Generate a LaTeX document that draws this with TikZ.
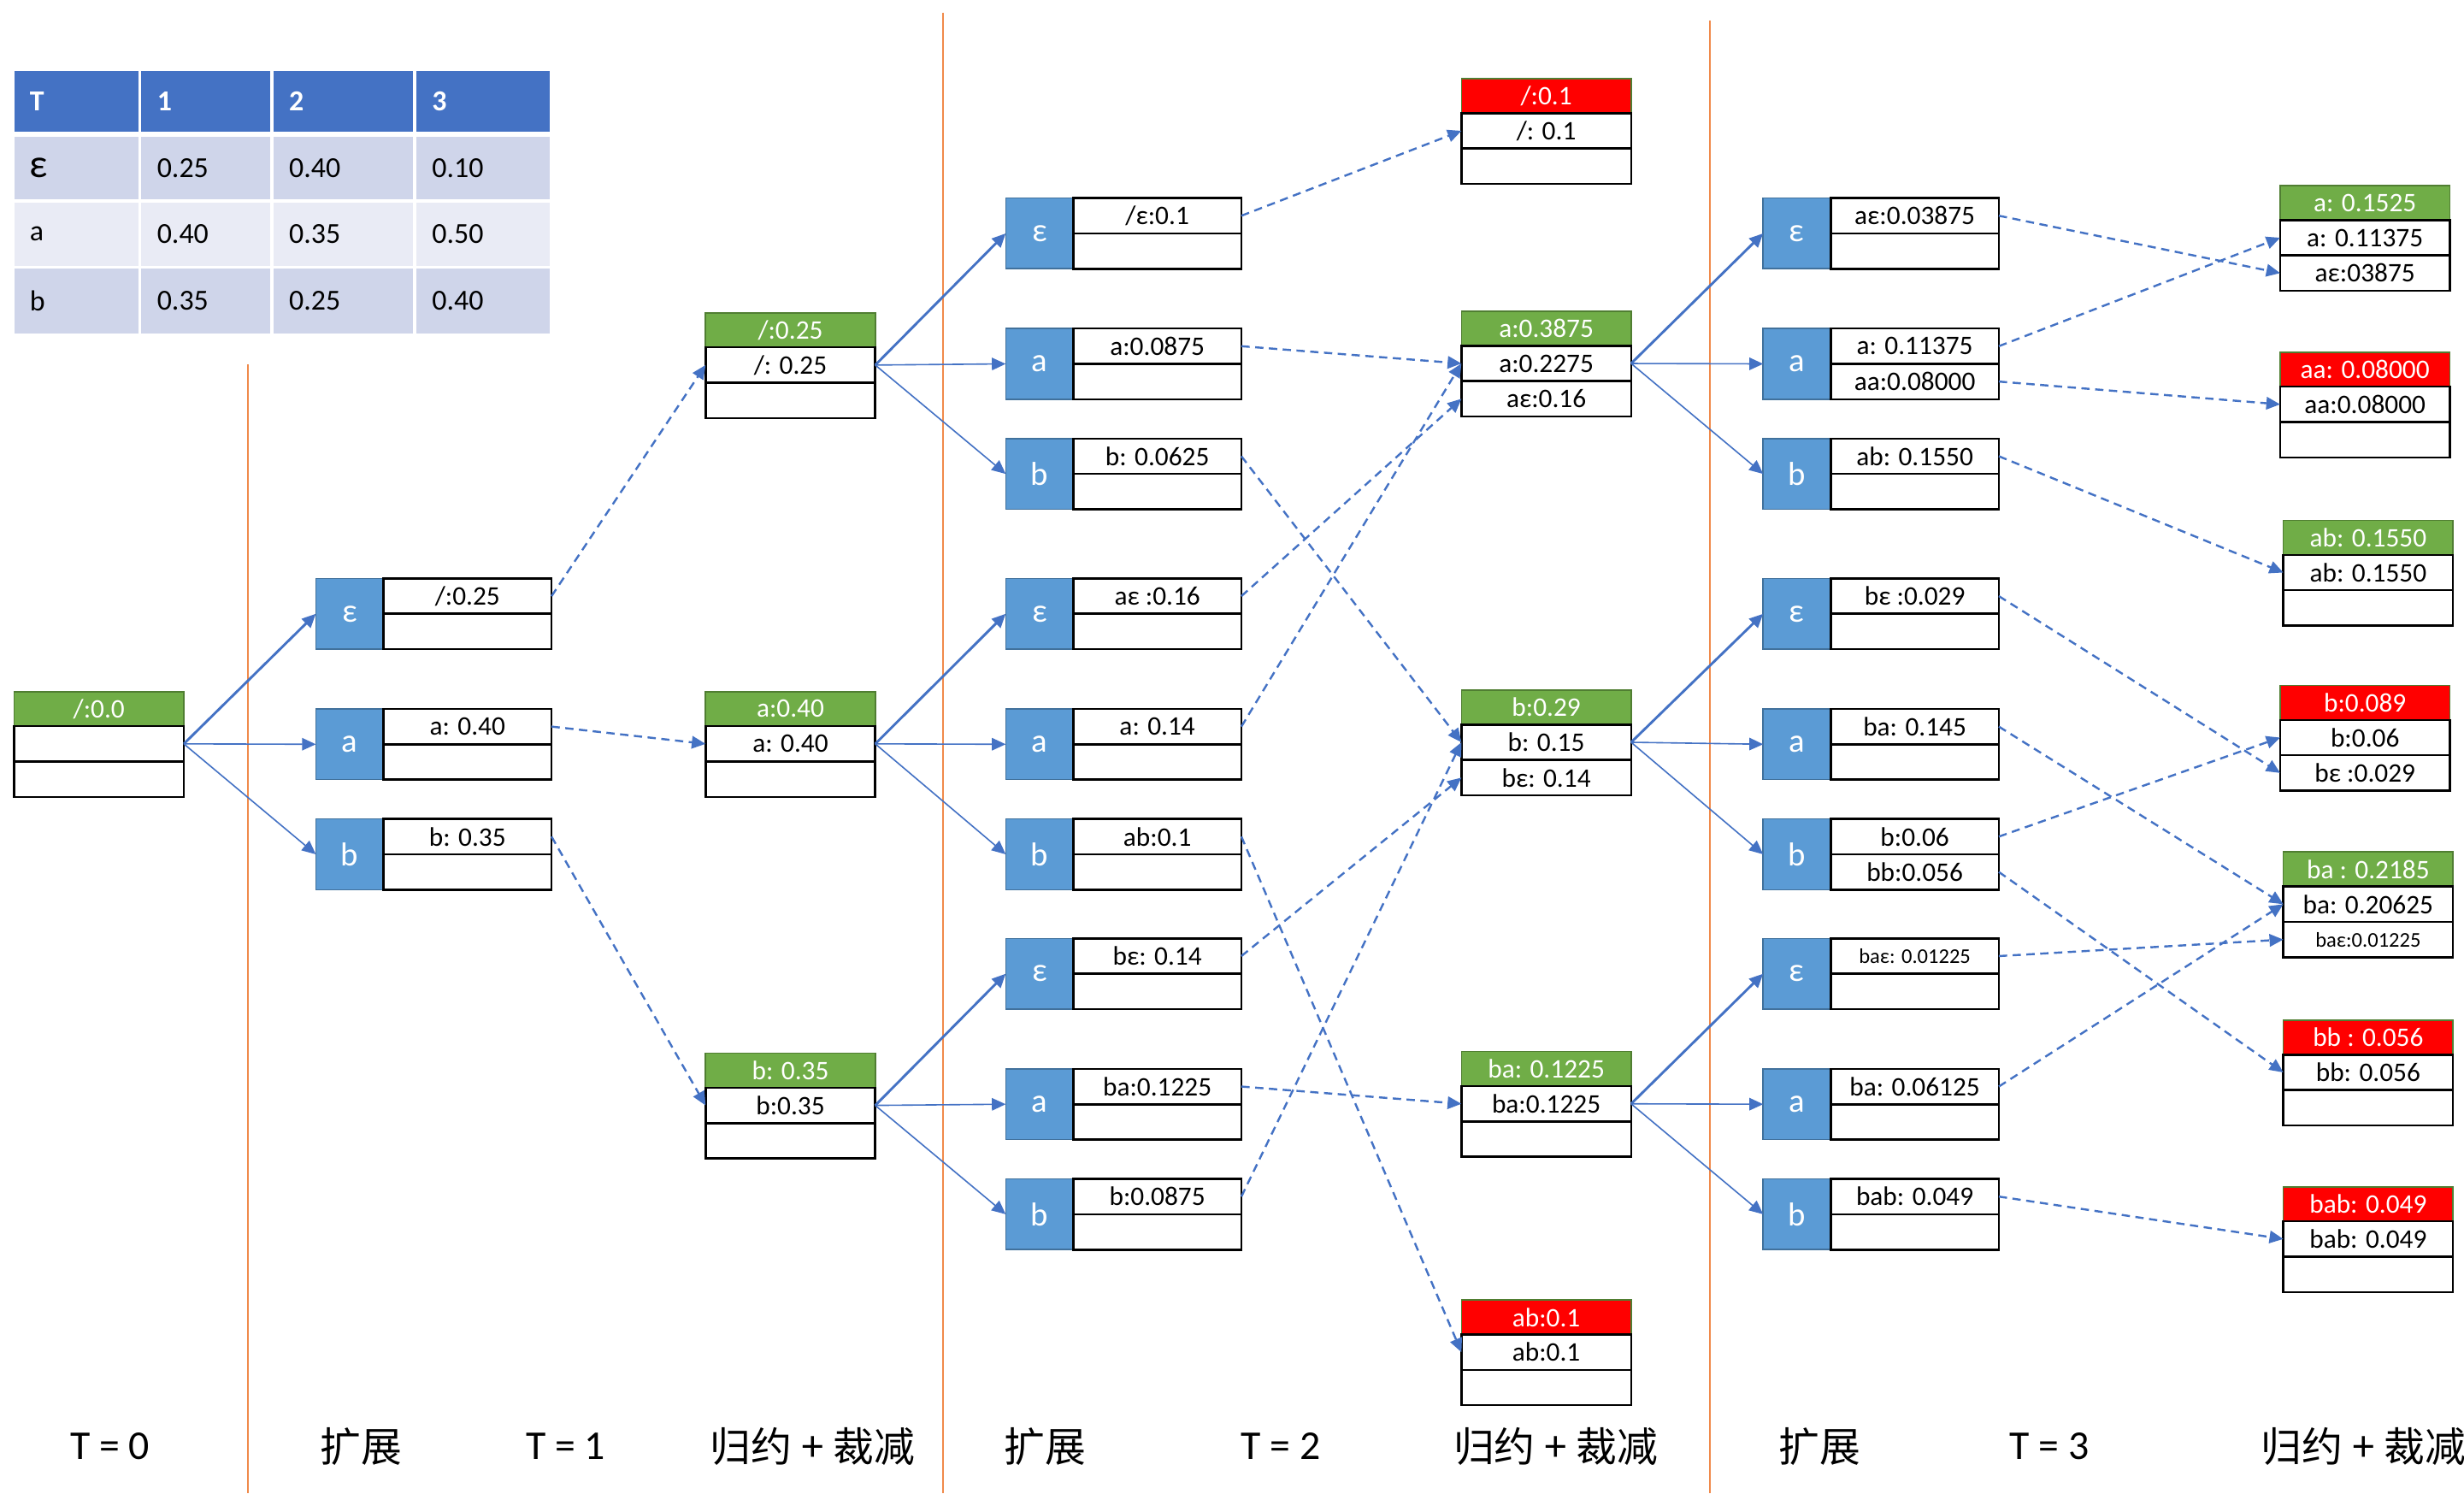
\documentclass[tikz,border=0pt]{standalone}
\usepackage{fontspec}
\setmainfont{Carlito}
\newfontfamily\cjkfont{Noto Sans CJK SC}
\usetikzlibrary{arrows.meta}
\definecolor{lineblue}{HTML}{4472C4}
\definecolor{boxblue}{HTML}{5B9BD5}
\definecolor{boxblueedge}{HTML}{41719C}
\definecolor{hgreen}{HTML}{70AD47}
\definecolor{hgreenedge}{HTML}{507E32}
\definecolor{hred}{HTML}{FF0000}
\definecolor{tabhead}{HTML}{4472C4}
\definecolor{tabdark}{HTML}{CFD5EA}
\definecolor{tablight}{HTML}{E9EBF5}
\definecolor{sepline}{HTML}{F08A4B}
\newcommand\bxfont{\fontsize{9.7}{11}\selectfont}
\newcommand\smallbxfont{\fontsize{7.6}{9}\selectfont}
\newcommand\tabfont{\fontsize{10.5}{12}\selectfont}
\tikzset{
  cell/.style={draw=black, line width=0.8pt, fill=white, minimum width=2.14cm, minimum height=0.45cm,
    inner sep=0pt, outer sep=0pt, font=\bxfont, anchor=north west},
  rcell/.style={cell, minimum width=2.16cm},
  letterbox/.style={draw=boxblueedge, line width=0.5pt, fill=boxblue, text=white, minimum width=0.86cm,
    minimum height=0.9cm, inner sep=0pt, outer sep=0pt, font=\fontsize{12}{13}\selectfont, anchor=north west},
  headgreen/.style={draw=hgreenedge, line width=0.5pt, fill=hgreen, text=white, minimum width=2.16cm,
    minimum height=0.44cm, inner sep=0pt, outer sep=0pt, font=\bxfont, anchor=north west},
  headred/.style={headgreen, fill=hred},
  expand/.style={-{Triangle[length=5pt,width=4.5pt]}, draw=lineblue, fill=lineblue, line width=0.5pt},
  expandthick/.style={expand, line width=0.9pt},
  merge/.style={-{Triangle[length=5pt,width=4.5pt]}, draw=lineblue, line width=0.75pt, dash pattern=on 3pt off 2pt},
  divider/.style={draw=sepline, line width=0.6pt},
  steplabel/.style={font=\fontsize{14.8}{16}\selectfont},
  tabcell/.style={anchor=north west, inner xsep=0.2cm, inner ysep=0pt, outer sep=0pt, align=left, font=\tabfont, text=black},
  tcA/.style={text width=1.18cm}, tcB/.style={text width=1.24cm},
  tcC/.style={text width=1.38cm}, tcD/.style={text width=1.30cm},
  trH/.style={minimum height=0.78cm, fill=tabhead, text=white, font=\tabfont\bfseries},
  trE/.style={minimum height=0.80cm, fill=tabdark},
  trA/.style={minimum height=0.80cm, fill=tablight},
  trB/.style={minimum height=0.82cm, fill=tabdark},
}
% expansion box: name, x, y, letter, top text, bottom text
\newcommand\ExpBox[6]{%
  \node[letterbox] (#1l) at (#2,#3) {#4};
  \node[cell] (#1t) at (#1l.north east) {#5};
  \node[cell] (#1b) at (#1t.south west) {#6};
}
% reduced box: name, x, y, header style, header, row 1, row 2
\newcommand\RedBox[7]{%
  \node[#4] (#1h) at (#2,#3) {#5};
  \node[rcell] (#1r) at (#1h.south west) {#6};
  \node[rcell] (#1s) at (#1r.south west) {#7};
}
\begin{document}
\begin{tikzpicture}[x=0.02cm, y=-0.02cm]
\useasboundingbox (0,0) rectangle (1568,950);

% table
\node[tabcell,tcA,trH] (tH1) at (9,45) {T};
\node[tabcell,tcB,trH] (tH2) at (90,45) {1};
\node[tabcell,tcC,trH] (tH3) at (174,45) {2};
\node[tabcell,tcD,trH] (tH4) at (265,45) {3};
\node[tabcell,tcA,trE] (tE1) at (9,87) {{\fontsize{14.5}{12}\selectfont ε}};
\node[tabcell,tcB,trE] (tE2) at (90,87) {0.25};
\node[tabcell,tcC,trE] (tE3) at (174,87) {0.40};
\node[tabcell,tcD,trE] (tE4) at (265,87) {0.10};
\node[tabcell,tcA,trA] (tA1) at (9,129) {a};
\node[tabcell,tcB,trA] (tA2) at (90,129) {0.40};
\node[tabcell,tcC,trA] (tA3) at (174,129) {0.35};
\node[tabcell,tcD,trA] (tA4) at (265,129) {0.50};
\node[tabcell,tcA,trB] (tB1) at (9,171) {b};
\node[tabcell,tcB,trB] (tB2) at (90,171) {0.35};
\node[tabcell,tcC,trB] (tB3) at (174,171) {0.25};
\node[tabcell,tcD,trB] (tB4) at (265,171) {0.40};

% dividers
\draw[divider] (158,232) -- (158,950);
\draw[divider] (600,8) -- (600,950);
\draw[divider] (1088,13) -- (1088,950);

% root
\RedBox{Root}{9}{440}{headgreen}{/:0.0}{}{}

% stage 1 expansion
\ExpBox{E1e}{201}{368}{ε}{/:0.25}{}
\ExpBox{E1a}{201}{451}{a}{a: 0.40}{}
\ExpBox{E1b}{201}{521}{b}{b: 0.35}{}

% stage 1 reduce
\RedBox{R1e}{449}{199}{headgreen}{/:0.25}{/: 0.25}{}
\RedBox{R1a}{449}{440}{headgreen}{a:0.40}{a: 0.40}{}
\RedBox{R1b}{449}{670}{headgreen}{b: 0.35}{b:0.35}{}

% stage 2 expansion
\ExpBox{E2x1}{640}{126}{ε}{/ε:0.1}{}
\ExpBox{E2x2}{640}{209}{a}{a:0.0875}{}
\ExpBox{E2x3}{640}{279}{b}{b: 0.0625}{}
\ExpBox{E2x4}{640}{368}{ε}{aε :0.16}{}
\ExpBox{E2x5}{640}{451}{a}{a: 0.14}{}
\ExpBox{E2x6}{640}{521}{b}{ab:0.1}{}
\ExpBox{E2x7}{640}{597}{ε}{bε: 0.14}{}
\ExpBox{E2x8}{640}{680}{a}{ba:0.1225}{}
\ExpBox{E2x9}{640}{750}{b}{b:0.0875}{}

% stage 2 reduce
\RedBox{R2x1}{930}{50}{headred}{/:0.1}{/: 0.1}{}
\RedBox{R2x2}{930}{198}{headgreen}{a:0.3875}{a:0.2275}{aε:0.16}
\RedBox{R2x3}{930}{439}{headgreen}{b:0.29}{b: 0.15}{bε: 0.14}
\RedBox{R2x4}{930}{669}{headgreen}{ba: 0.1225}{ba:0.1225}{}
\RedBox{R2x5}{930}{827}{headred}{ab:0.1}{ab:0.1}{}

% stage 3 expansion
\ExpBox{E3x1}{1122}{126}{ε}{aε:0.03875}{}
\ExpBox{E3x2}{1122}{209}{a}{a: 0.11375}{aa:0.08000}
\ExpBox{E3x3}{1122}{279}{b}{ab: 0.1550}{}
\ExpBox{E3x4}{1122}{368}{ε}{bε :0.029}{}
\ExpBox{E3x5}{1122}{451}{a}{ba: 0.145}{}
\ExpBox{E3x6}{1122}{521}{b}{b:0.06}{bb:0.056}
\ExpBox{E3x7}{1122}{597}{ε}{\smallbxfont baε: 0.01225}{}
\ExpBox{E3x8}{1122}{680}{a}{ba: 0.06125}{}
\ExpBox{E3x9}{1122}{750}{b}{bab: 0.049}{}

% stage 3 reduce
\RedBox{R3x1}{1451}{118}{headgreen}{a: 0.1525}{a: 0.11375}{aε:03875}
\RedBox{R3x2}{1451}{224}{headred}{aa: 0.08000}{aa:0.08000}{}
\RedBox{R3x3}{1453}{331}{headgreen}{ab: 0.1550}{ab: 0.1550}{}
\RedBox{R3x4}{1451}{436}{headred}{b:0.089}{b:0.06}{bε :0.029}
\RedBox{R3x5}{1453}{542}{headgreen}{ba : 0.2185}{ba: 0.20625}{\smallbxfont baε:0.01225}
\RedBox{R3x6}{1453}{649}{headred}{bb : 0.056}{bb: 0.056}{}
\RedBox{R3x7}{1453}{755}{headred}{bab: 0.049}{bab: 0.049}{}

% expansion connectors
\draw[expandthick] (Rootr.east) -- (E1el.west);
\draw[expand] (Rootr.east) -- (E1al.west);
\draw[expand] (Rootr.east) -- (E1bl.west);
\draw[expandthick] (R1er.east) -- (E2x1l.west);
\draw[expand] (R1er.east) -- (E2x2l.west);
\draw[expand] (R1er.east) -- (E2x3l.west);
\draw[expandthick] (R1ar.east) -- (E2x4l.west);
\draw[expand] (R1ar.east) -- (E2x5l.west);
\draw[expand] (R1ar.east) -- (E2x6l.west);
\draw[expandthick] (R1br.east) -- (E2x7l.west);
\draw[expand] (R1br.east) -- (E2x8l.west);
\draw[expand] (R1br.east) -- (E2x9l.west);
\draw[expandthick] (R2x2r.east) -- (E3x1l.west);
\draw[expand] (R2x2r.east) -- (E3x2l.west);
\draw[expand] (R2x2r.east) -- (E3x3l.west);
\draw[expandthick] (R2x3r.east) -- (E3x4l.west);
\draw[expand] (R2x3r.east) -- (E3x5l.west);
\draw[expand] (R2x3r.east) -- (E3x6l.west);
\draw[expandthick] (R2x4r.east) -- (E3x7l.west);
\draw[expand] (R2x4r.east) -- (E3x8l.west);
\draw[expand] (R2x4r.east) -- (E3x9l.west);

% merge connectors
\draw[merge] (E1et.east) -- (R1er.west);
\draw[merge] (E1at.east) -- (R1ar.west);
\draw[merge] (E1bt.east) -- (R1br.west);
\draw[merge] (E2x1t.east) -- (R2x1r.west);
\draw[merge] (E2x2t.east) -- (R2x2r.west);
\draw[merge] (E2x3t.east) -- (R2x3r.west);
\draw[merge] (E2x4t.east) -- (R2x2s.west);
\draw[merge] (E2x5t.east) -- (R2x2r.west);
\draw[merge] (E2x6t.east) -- (R2x5r.west);
\draw[merge] (E2x7t.east) -- (R2x3s.west);
\draw[merge] (E2x8t.east) -- (R2x4r.west);
\draw[merge] (E2x9t.east) -- (R2x3r.west);
\draw[merge] (E3x1t.east) -- (R3x1s.west);
\draw[merge] (E3x2t.east) -- (R3x1r.west);
\draw[merge] (E3x2b.east) -- (R3x2r.west);
\draw[merge] (E3x3t.east) -- (R3x3r.west);
\draw[merge] (E3x4t.east) -- (R3x4s.west);
\draw[merge] (E3x5t.east) -- (R3x5r.west);
\draw[merge] (E3x6t.east) -- (R3x4r.west);
\draw[merge] (E3x6b.east) -- (R3x6r.west);
\draw[merge] (E3x7t.east) -- (R3x5s.west);
\draw[merge] (E3x8t.east) -- (R3x5r.west);
\draw[merge] (E3x9t.east) -- (R3x7r.west);

% bottom labels
\node[steplabel] (L0) at (70,920) {T = 0};
\node[steplabel] (L1) at (230,920) {\cjkfont 扩展};
\node[steplabel] (L2) at (360,920) {T = 1};
\node[steplabel] (L3) at (517,920) {\cjkfont 归约 + 裁减};
\node[steplabel] (L4) at (665,920) {\cjkfont 扩展};
\node[steplabel] (L5) at (815,920) {T = 2};
\node[steplabel] (L6) at (990,920) {\cjkfont 归约 + 裁减};
\node[steplabel] (L7) at (1158,920) {\cjkfont 扩展};
\node[steplabel] (L8) at (1304,920) {T = 3};
\node[steplabel] (L9) at (1504,920) {\cjkfont 归约 + 裁减};
\end{tikzpicture}
\end{document}
